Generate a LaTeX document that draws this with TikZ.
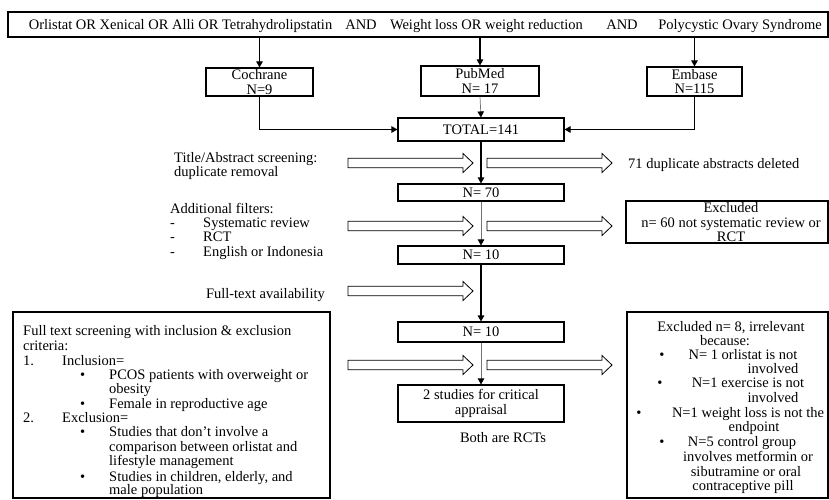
\documentclass[tikz,border=0pt]{standalone}
\usepackage{fontspec}
\setmainfont{Liberation Serif}
\usetikzlibrary{arrows.meta}
\begin{document}
\begin{tikzpicture}[x=1pt,y=-1pt,
  font=\fontsize{14.5}{14.5}\selectfont,
  box/.style={draw, line width=1.1pt, inner sep=0pt, align=center},
  conn/.style={line width=1.1pt, -{Triangle[length=6pt,width=6.5pt]}},
  thinconn/.style={draw=black!55, line width=0.7pt, -{Triangle[length=6pt,width=6.5pt,color=black]}},
  txt/.style={inner sep=0pt, anchor=west, text height=9.6pt, text depth=0pt},
  ctxt/.style={inner sep=0pt, anchor=center, text height=9.6pt, text depth=0pt},
  barrow/.pic={\draw[line width=0.8pt, fill=white] (0,-4.8) -- (115,-4.8) -- (115,-9.5) -- (125,0) -- (115,9.5) -- (115,4.8) -- (0,4.8) -- cycle;}
]
\useasboundingbox (0,0) rectangle (829,500);
\fill[white] (0,0) rectangle (829,500);

% top search box
\node[box, minimum width=820pt, minimum height=25pt] (top) at (418,24.5) {};
\node[ctxt] (t1) at (180.5,25) {Orlistat OR Xenical OR Alli OR Tetrahydrolipstatin};
\node[ctxt] (t2) at (361,25) {AND};
\node[ctxt] (t3) at (486.5,25) {Weight loss OR weight reduction};
\node[ctxt] (t4) at (622,25) {AND};
\node[ctxt] (t5) at (740,25) {Polycystic Ovary Syndrome};

% databases
\node[box, minimum width=107pt, minimum height=28pt] (coch) at (259.5,82) {Cochrane\\N=9};
\node[box, minimum width=118pt, minimum height=30pt] (pub) at (480,81) {PubMed\\N= 17};
\node[box, minimum width=95pt, minimum height=29pt] (emb) at (694.5,81.5) {Embase\\N=115};

% main column
\node[box, minimum width=166pt, minimum height=23pt] (total) at (481,129.5) {TOTAL=141};
\node[box, minimum width=166pt, minimum height=17pt] (n70) at (481,192.5) {N= 70};
\node[box, minimum width=166pt, minimum height=18pt] (n10a) at (481,255) {N= 10};
\node[box, minimum width=166pt, minimum height=20pt] (n10b) at (481,332) {N= 10};
\node[box, minimum width=166pt, minimum height=37pt] (stud) at (481,403.5) {2 studies for critical\\appraisal};
\node[ctxt] (both) at (503,438) {Both are RCTs};

% connectors
\draw[conn] (coch.north |- top.south) -- (coch.north);
\draw[conn] (pub.north |- top.south) -- (pub.north);
\draw[conn] (emb.north |- top.south) -- (emb.north);
\draw[conn] (coch.south) |- (total.west);
\draw[conn] (emb.south) |- (total.east);
\draw[thinconn] (pub.south) -- (total.north);
\draw[conn] (total.south) -- (n70.north);
\draw[thinconn] (n70.south) -- (n10a.north);
\draw[conn] (n10a.south) -- (n10b.north);
\draw[thinconn] (n10b.south) -- (stud.north);

% block arrows
\pic at (348,163) {barrow};
\pic at (487,163) {barrow};
\pic at (348,226) {barrow};
\pic at (487,226) {barrow};
\pic at (348,291) {barrow};
\pic at (348,365) {barrow};
\pic at (487,365) {barrow};

% side texts
\node[txt] (dup) at (628,164) {71 duplicate abstracts deleted};
\node[txt] (ta1) at (174,158) {Title/Abstract screening:};
\node[txt] (ta2) at (174,172) {duplicate removal};
\node[txt] (af) at (170,209) {Additional filters:};
\node[txt] (d1) at (170,223) {-};
\node[txt] (d2) at (170,237) {-};
\node[txt] (d3) at (170,252) {-};
\node[txt] (af1) at (203,223) {Systematic review};
\node[txt] (af2) at (203,237) {RCT};
\node[txt] (af3) at (203,252) {English or Indonesia};
\node[inner sep=0pt, anchor=east, text height=9.6pt, text depth=0pt] (fta) at (325,294) {Full-text availability};

% excluded box 1
\node[box, minimum width=202pt, minimum height=42pt] (exc1) at (727,222) {};
\node[ctxt] (e1a) at (731,208) {Excluded};
\node[ctxt] (e1b) at (731,223) {n= 60 not systematic review or};
\node[ctxt] (e1c) at (731,237) {RCT};

% left criteria box
\node[box, minimum width=317pt, minimum height=186pt] (crit) at (171.5,405) {};
\node[txt] (c1) at (23,331) {Full text screening with inclusion \& exclusion};
\node[txt] (c2) at (23,346) {criteria:};
\node[txt] (c3n) at (23,361) {1.};
\node[txt] (c3) at (62,361) {Inclusion=};
\node[txt] (b1) at (80,375) {•};
\node[txt] (c4) at (109,375) {PCOS patients with overweight or};
\node[txt] (c5) at (109,389) {obesity};
\node[txt] (b2) at (80,404) {•};
\node[txt] (c6) at (109,404) {Female in reproductive age};
\node[txt] (c7n) at (23,418) {2.};
\node[txt] (c7) at (62,418) {Exclusion=};
\node[txt] (b3) at (80,432) {•};
\node[txt] (c8) at (109,432) {Studies that don't involve a};
\node[txt] (c9) at (109,447) {comparison between orlistat and};
\node[txt] (c10) at (109,461) {lifestyle management};
\node[txt] (b4) at (80,477) {•};
\node[txt] (c11) at (109,477) {Studies in children, elderly, and};
\node[txt] (c12) at (109,490) {male population};

% excluded box 2
\node[box, minimum width=201pt, minimum height=186pt] (exc2) at (727.5,405) {};
\node[ctxt] (x1) at (731,327) {Excluded n= 8, irrelevant};
\node[ctxt] (x2) at (725,341) {because:};
\node[ctxt] (x3) at (743,355) {N= 1 orlistat is not};
\node[ctxt] (x4) at (773,369) {involved};
\node[ctxt] (x5) at (748,383) {N=1 exercise is not};
\node[ctxt] (x6) at (773,398) {involved};
\node[ctxt] (x7) at (748,413) {N=1 weight loss is not the};
\node[ctxt] (x8) at (754,427) {endpoint};
\node[ctxt] (x9) at (742,442) {N=5 control group};
\node[ctxt] (x10) at (748,457) {involves metformin or};
\node[ctxt] (x11) at (746,472) {sibutramine or oral};
\node[ctxt] (x12) at (743,486) {contraceptive pill};
\node[ctxt] (xb1) at (662,355) {•};
\node[ctxt] (xb2) at (660,383) {•};
\node[ctxt] (xb3) at (639,413) {•};
\node[ctxt] (xb4) at (662,442) {•};
\end{tikzpicture}
\end{document}
